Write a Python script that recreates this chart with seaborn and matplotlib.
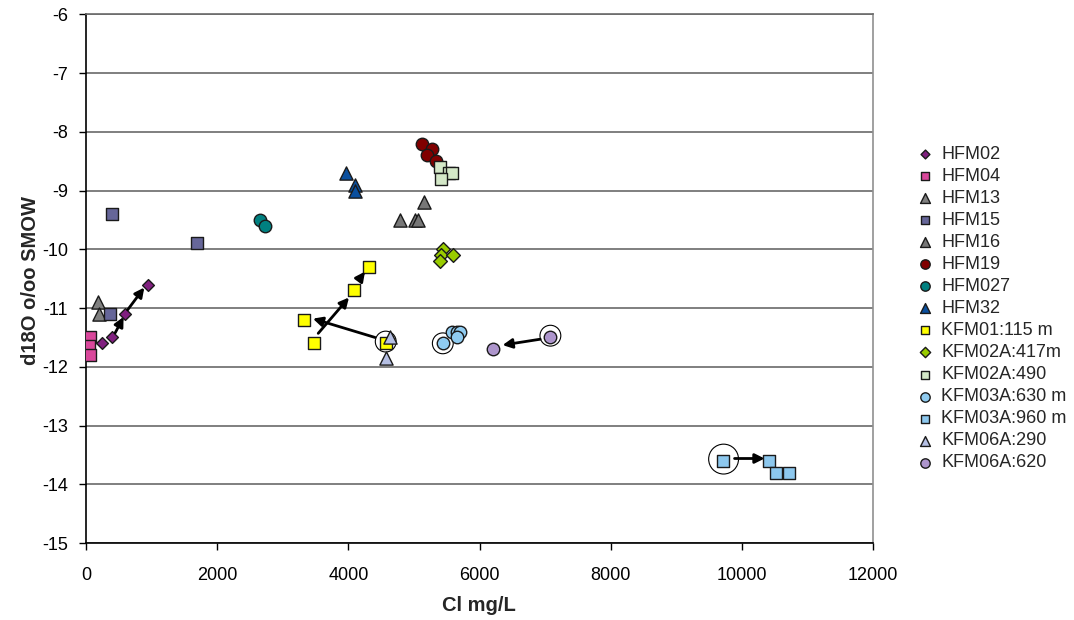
import matplotlib
matplotlib.use("Agg")
import matplotlib.pyplot as plt
import seaborn as sns
import pandas as pd

# Cl (mg/L) and d18O values per sample series
series_names = ["HFM02", "HFM04", "HFM13", "HFM15", "HFM16", "HFM19", "HFM027", "HFM32",
                "KFM01:115 m", "KFM02A:417m", "KFM02A:490", "KFM03A:630 m",
                "KFM03A:960 m", "KFM06A:290", "KFM06A:620"]
cl_values = [
    [250, 400, 600, 950],
    [60, 50, 55],
    [190, 200],
    [400, 1700, 360],
    [4780, 5020, 5060, 5150],
    [5130, 5270, 5200, 5330],
    [2660, 2730],
    [3970, 4100, 4100],
    [3330, 3480, 4080, 4310, 4570],
    [5440, 5420, 5590, 5390],
    [5390, 5530, 5580, 5420],
    [5440, 5580, 5650, 5700, 5650],
    [9710, 10410, 10520, 10720],
    [4640, 4570],
    [7080, 6210],
]
d18o_values = [
    [-11.6, -11.5, -11.1, -10.6],
    [-11.5, -11.65, -11.8],
    [-10.9, -11.1],
    [-9.4, -9.9, -11.1],
    [-9.5, -9.5, -9.5, -9.2],
    [-8.2, -8.3, -8.4, -8.5],
    [-9.5, -9.6],
    [-8.7, -8.9, -9.0],
    [-11.2, -11.6, -10.7, -10.3, -11.6],
    [-10.0, -10.1, -10.1, -10.2],
    [-8.6, -8.7, -8.7, -8.8],
    [-11.6, -11.4, -11.4, -11.4, -11.5],
    [-13.6, -13.6, -13.8, -13.8],
    [-11.5, -11.85],
    [-11.5, -11.7],
]
colors = ["#80207F", "#D9479B", "#808080", "#666699", "#777777", "#800000", "#008080",
          "#0A4F9E", "#FFFF00", "#99CC00", "#D4E8C8", "#8FCBF0", "#8DC8EE", "#B5BFE3", "#AD95CC"]
markers = ["D", "s", "^", "s", "^", "o", "o", "^", "s", "D", "s", "o", "s", "^", "o"]
sizes = [6, 8.5, 9.5, 8.5, 9.5, 9, 9, 9.5, 8.5, 7, 8.5, 9, 8.5, 9.5, 9]

# circled samples
ring_cl = [4570, 5440, 7080, 9720]
ring_d18o = [-11.57, -11.6, -11.47, -13.57]
ring_size = [15, 15, 15, 21.5]

# arrows (start -> end)
arrow_start = [(447, -11.42), (636, -11.03), (3541, -11.43), (4162, -10.52),
               (4407, -11.50), (6925, -11.53), (9887, -13.56)]
arrow_end = [(574, -11.15), (890, -10.65), (4010, -10.82), (4254, -10.38),
             (3460, -11.18), (6351, -11.63), (10345, -13.56)]

sns.set_style("white")
plt.rcParams["font.family"] = ["Liberation Sans", "DejaVu Sans"]
plt.rcParams["axes.unicode_minus"] = False

fig = plt.figure(figsize=(10.74, 6.2), dpi=100)
ax = fig.add_axes([0.080, 0.124, 0.733, 0.853])

for name, xs, ys, col, mk, ms in zip(series_names, cl_values, d18o_values, colors, markers, sizes):
    df = pd.DataFrame({"cl": xs, "d18o": ys})
    sns.scatterplot(data=df, x="cl", y="d18o", ax=ax, marker=mk, color=col, s=ms ** 2,
                    edgecolor="#1a1a1a", linewidth=1.0, label=name, zorder=3)

ax.scatter(ring_cl, ring_d18o, s=[r ** 2 for r in ring_size], facecolors="none",
           edgecolors="black", linewidths=0.8, zorder=2)

for (x0, y0), (x1, y1) in zip(arrow_start, arrow_end):
    ax.annotate("", xy=(x1, y1), xytext=(x0, y0),
                arrowprops=dict(arrowstyle="-|>", color="black", lw=2, mutation_scale=14,
                                shrinkA=0, shrinkB=0), zorder=4)

ax.set_xlim(0, 12000)
ax.set_ylim(-15, -6)
ax.set_xticks(range(0, 12001, 2000))
ax.set_yticks(range(-15, -5))
ax.yaxis.grid(True, color="#6a6a6a", linewidth=1.2)
ax.xaxis.grid(False)
ax.set_axisbelow(True)

for side in ["left", "bottom"]:
    ax.spines[side].set_color("black")
    ax.spines[side].set_linewidth(1.2)
ax.spines["right"].set_color("#909090")
ax.spines["right"].set_linewidth(1.2)
ax.spines["top"].set_color("#6a6a6a")
ax.spines["top"].set_linewidth(1.2)

ax.tick_params(axis="both", labelsize=13, colors="black", direction="out",
               length=5, width=1, left=True, bottom=True)
ax.tick_params(axis="y", pad=8)
ax.tick_params(axis="x", pad=12)

ax.set_xlabel("Cl mg/L", fontsize=14.5, fontweight="bold")
ax.set_ylabel("d18O o/oo SMOW", fontsize=14.5, fontweight="bold")
ax.xaxis.set_label_coords(0.4994, -0.100)
ax.yaxis.set_label_coords(-0.058, 0.497)

ax.legend(loc="upper left", bbox_to_anchor=(0.855, 0.765), bbox_transform=fig.transFigure,
          frameon=False, fontsize=13, markerscale=0.75, handlelength=0.8,
          handletextpad=0.47, labelspacing=0.28, borderpad=0, borderaxespad=0)

plt.savefig("out.png", dpi=100)
